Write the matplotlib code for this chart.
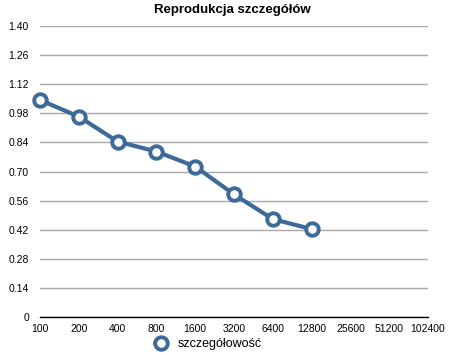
import matplotlib
matplotlib.use("Agg")
import matplotlib.pyplot as plt

categories = ["100", "200", "400", "800", "1600", "3200", "6400", "12800", "25600", "51200", "102400"]
values = [1.044, 0.964, 0.844, 0.796, 0.724, 0.59, 0.471, 0.423]
yticks = [0, 0.14, 0.28, 0.42, 0.56, 0.70, 0.84, 0.98, 1.12, 1.26, 1.40]
yticklabels = ["0", "0.14", "0.28", "0.42", "0.56", "0.70", "0.84", "0.98", "1.12", "1.26", "1.40"]

plt.rcParams['font.family'] = ['Liberation Sans', 'DejaVu Sans']

W, H = 452, 355
fig = plt.figure(figsize=(W/100, H/100), dpi=100)
ax = fig.add_axes([40/W, 1-317/H, (428-40)/W, (317-26)/H])

color = "#3e6a99"
x = list(range(len(values)))
ax.plot(x, values, color=color, lw=3, marker="o", ms=9, mfc="white", mec=color, mew=2.8,
        label="szczegółowość", solid_capstyle="round", zorder=3, clip_on=False)

ax.set_xlim(0, len(categories)-1)
ax.set_ylim(0, 1.40)
ax.set_xticks(range(len(categories)))
ax.set_xticklabels(categories, fontsize=7.5)
ax.set_yticks(yticks)
ax.set_yticklabels(yticklabels, fontsize=7.5)
ax.tick_params(length=0, pad=8)
ax.tick_params(axis='x', pad=5)
ax.grid(axis='y', color="#a8a8a8", lw=1)
ax.set_axisbelow(True)
for s in ["top", "right", "left"]:
    ax.spines[s].set_visible(False)
ax.spines["bottom"].set_color("black")
ax.spines["bottom"].set_linewidth(1)
ax.spines["bottom"].set_zorder(2.5)

fig.text(232/W, 1-10/H, "Reprodukcja szczegółów",
         ha="center", va="center", fontsize=9.5, fontweight="bold")

leg = fig.legend(loc="center", bbox_to_anchor=(208/W, 1-344/H), frameon=False,
                 fontsize=9, handlelength=1.0, handletextpad=0.8, borderpad=0)

fig.savefig("out.png", dpi=100)
